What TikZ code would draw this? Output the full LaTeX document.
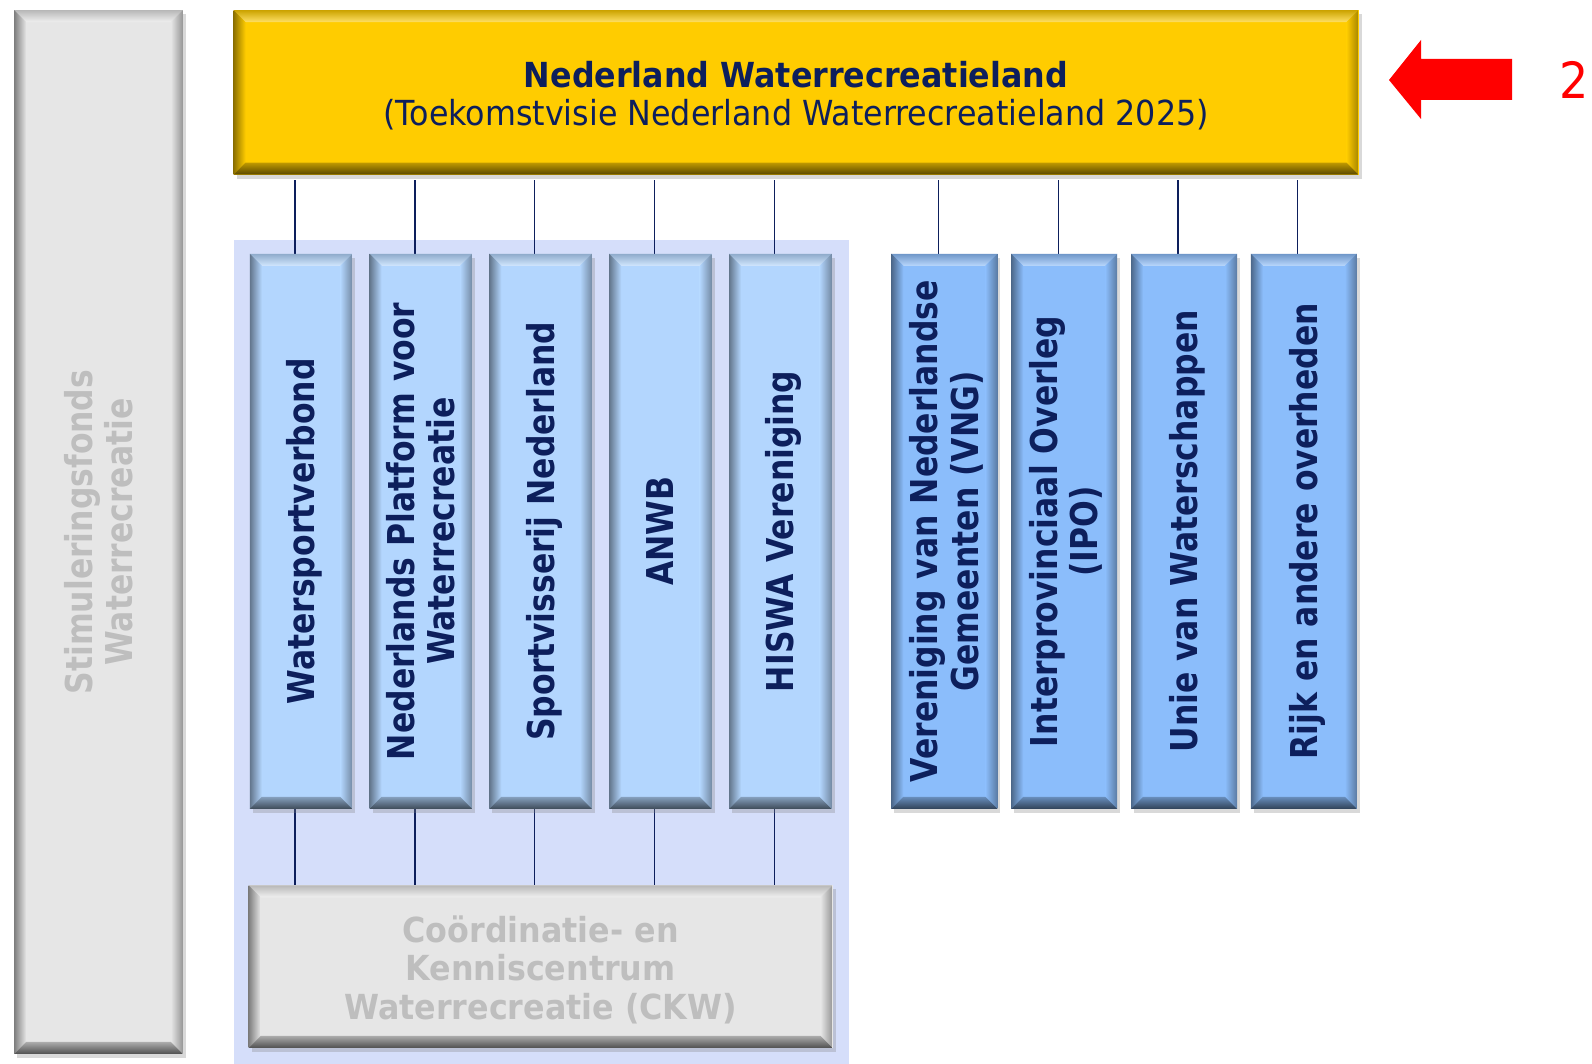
\documentclass[tikz,border=0pt]{standalone}
\usepackage{fontspec}
\setmainfont{DejaVu Sans}
\usepackage{graphicx}
\usetikzlibrary{positioning,shadows,backgrounds}

\definecolor{navy}{HTML}{0D1F5C}
\definecolor{gold}{HTML}{FFCC00}
\definecolor{skyA}{HTML}{B3D6FE}
\definecolor{skyB}{HTML}{8BBDFB}
\definecolor{lilac}{HTML}{D5DEFA}
\definecolor{pale}{HTML}{E6E6E6}
\definecolor{greytext}{HTML}{BEBEBE}

\newcommand{\bevw}{12pt}
\newcommand{\htext}[1]{\raisebox{0pt}[\dimexpr\height+13pt\relax]{\scalebox{0.92}[1]{\begin{tabular}{@{}c@{}}#1\end{tabular}}}}
\newcommand{\vtext}[1]{\hspace*{11pt}\rotatebox{90}{\scalebox{0.85}[1]{\begin{tabular}{@{}c@{}}#1\end{tabular}}}}

\begin{document}
\begin{tikzpicture}[x=1pt, y=-1pt,
  bevel/.style={fill=#1, path picture={
    \coordinate (p-nw) at (path picture bounding box.north west);
    \coordinate (p-ne) at (path picture bounding box.north east);
    \coordinate (p-sw) at (path picture bounding box.south west);
    \coordinate (p-se) at (path picture bounding box.south east);
    \shade[top color=#1!80!black, bottom color=#1!60!white]
      (p-nw) -- (p-ne) -- ([xshift=-\bevw,yshift=-\bevw]p-ne) -- ([xshift=\bevw,yshift=-\bevw]p-nw) -- cycle;
    \shade[left color=#1!55!black, right color=#1]
      (p-nw) -- ([xshift=\bevw,yshift=-\bevw]p-nw) -- ([xshift=\bevw,yshift=\bevw]p-sw) -- (p-sw) -- cycle;
    \shade[left color=#1, middle color=white!70!#1, right color=#1!65!black]
      (p-ne) -- (p-se) -- ([xshift=-\bevw,yshift=\bevw]p-se) -- ([xshift=-\bevw,yshift=-\bevw]p-ne) -- cycle;
    \shade[top color=#1!75!black, bottom color=#1!35!black]
      (p-sw) -- (p-se) -- ([xshift=-\bevw,yshift=\bevw]p-se) -- ([xshift=\bevw,yshift=\bevw]p-sw) -- cycle;
  }},
  box/.style={inner sep=0pt, outer sep=0pt, anchor=north west,
    drop shadow={shadow xshift=3pt, shadow yshift=-4pt, opacity=0.3}},
  lightbox/.style={box, bevel=skyA, minimum width=102.5pt, minimum height=555pt,
    text=navy, font=\fontsize{37}{40}\selectfont\bfseries},
  darkbox/.style={box, bevel=skyB, minimum width=106pt, minimum height=555pt,
    text=navy, font=\fontsize{37}{40}\selectfont\bfseries},
  link/.style={draw=navy, line width=1.3pt}]

  \useasboundingbox (0,0) rectangle (1592,1064);

  % --- Left column ---
  \node[box, bevel=pale, minimum width=168.6pt, minimum height=1043.7pt,
    text=greytext, font=\fontsize{37}{38}\selectfont\bfseries] (fund) at (14.2,10.2)
    {\vtext{Stimuleringsfonds\\Waterrecreatie}};

  % --- Top box ---
  \node[box, bevel=gold, minimum width=1125pt, minimum height=164.4pt,
    text=navy, font=\fontsize{34.5}{38.6}\selectfont] (vision) at (233.5,10.2)
    {\htext{\textbf{Nederland Waterrecreatieland}\\(Toekomstvisie Nederland Waterrecreatieland 2025)}};

  % --- Organisations ---
  \node[lightbox] (wsv) at (249.8,253.8) {\vtext{Watersportverbond}};
  \node[lightbox, right=17.3pt of wsv] (npw) {\vtext{Nederlands Platform voor\\Waterrecreatie}};
  \node[lightbox, right=17.3pt of npw] (svn) {\vtext{Sportvisserij Nederland}};
  \node[lightbox, right=17.3pt of svn] (anwb) {\vtext{ANWB}};
  \node[lightbox, right=17.3pt of anwb] (hiswa) {\vtext{HISWA Vereniging}};

  % --- Governments ---
  \node[darkbox, right=59.9pt of hiswa] (vng) {\vtext{Vereniging van Nederlandse\\Gemeenten (VNG)}};
  \node[darkbox, right=13.8pt of vng] (ipo) {\vtext{Interprovinciaal Overleg\\(IPO)}};
  \node[darkbox, right=13.8pt of ipo] (uvw) {\vtext{Unie van Waterschappen}};
  \node[darkbox, right=13.8pt of uvw] (rijk) {\vtext{Rijk en andere overheden}};

  % --- Bottom box ---
  \node[box, bevel=pale, minimum width=583.8pt, minimum height=162.5pt,
    text=greytext, font=\fontsize{34.5}{38.6}\selectfont\bfseries] (ckw) at (248.7,885.3)
    {\htext{Coördinatie- en\\Kenniscentrum\\Waterrecreatie (CKW)}};

  % --- Pointer ---
  \fill[red] (1389,80) -- (1421,40) -- (1421,59) -- (1512,59)
    -- (1512,100) -- (1421,100) -- (1421,119) -- cycle;
  \node[text=red, font=\fontsize{50}{54}\selectfont, inner sep=0pt, anchor=west]
    (two) at (1559,80) {\scalebox{0.92}[1]{2}};

  % --- Group area and links ---
  \begin{scope}[on background layer]
    \fill[lilac] (233.5,239.6) rectangle (848.8,1064);
    \foreach \b in {wsv,npw,svn,anwb,hiswa,vng,ipo,uvw,rijk}
      \draw[link] ([xshift=-6pt]\b.north) -- ([xshift=-6pt,yshift=-5pt]\b.north |- vision.south);
    \foreach \b in {wsv,npw,svn,anwb,hiswa}
      \draw[link] ([xshift=-6pt]\b.south) -- ([xshift=-6pt]\b.south |- ckw.north);
  \end{scope}
\end{tikzpicture}
\end{document}
